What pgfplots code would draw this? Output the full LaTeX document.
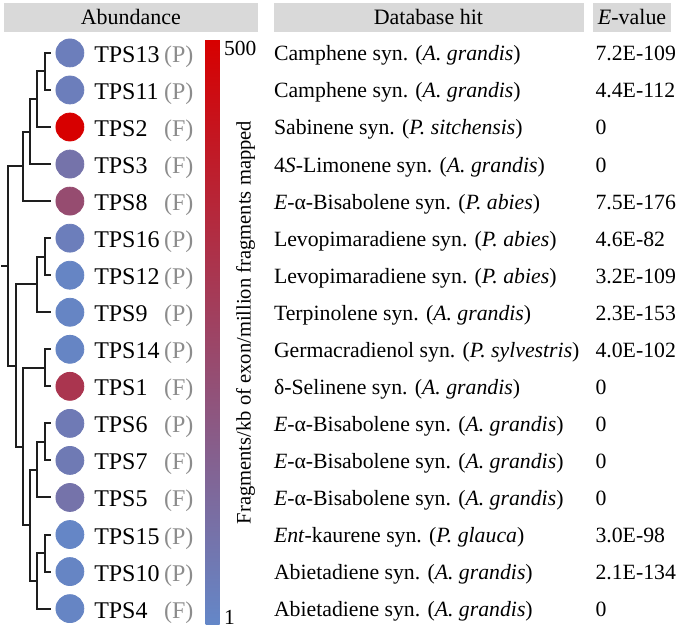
\documentclass[border=0pt]{standalone}
\usepackage{pgfplots}
\pgfplotsset{compat=1.18}
\usepackage{pgfplotstable}
\usepackage{fontspec}
\setmainfont{Liberation Serif}

\definecolor{hdr}{RGB}{217,217,217}
\definecolor{pfgray}{RGB}{140,140,140}
\definecolor{treec}{RGB}{30,30,30}

\newcommand\tpsf{\rmfamily\fontsize{12}{14}\selectfont}
\newcommand\tabf{\rmfamily\fontsize{10.9}{13}\selectfont}
\newcommand\hdrf{\rmfamily\fontsize{11}{13}\selectfont}
\newcommand\cbf{\rmfamily\fontsize{10.75}{12}\selectfont}
\newcommand\cblf{\rmfamily\fontsize{10.3}{12}\selectfont}

% abundance (fragments/kb of exon/million fragments mapped), rows top to bottom
\pgfplotstableread{
y abund
53.0 1.5
90.1 1.5
127.2 500
164.3 2.5
201.4 15
238.5 1.5
275.6 1.12
312.7 1.12
349.8 1.12
386.9 42
424.0 1.8
461.1 1.85
498.2 2.5
535.3 1.07
572.4 1.12
609.5 1.12
}\abund

\newcommand\row[5]{%
  \pgfmathsetmacro\yy{53+37.1*#1}%
  \node[anchor=base west, inner sep=0, font=\tpsf] at (93,{\yy+9.5}) {TPS#2};
  \node[anchor=base west, inner sep=0, font=\tpsf, text=pfgray] at (163,{\yy+9.5}) {(#3)};
  \node[anchor=base west, inner sep=0, font=\tabf] at (273,{\yy+8}) {#4};
  \node[anchor=base west, inner sep=0, font=\tabf] at (595,{\yy+8}) {#5};
}

\begin{document}
\begin{tikzpicture}
\begin{axis}[
  scale only axis, width=338.5pt, height=313.5pt,
  xmin=0, xmax=677, ymin=0, ymax=627, y dir=reverse,
  hide axis, clip=false,
  colormap={rb}{rgb255=(100,135,200) rgb255=(215,0,0)},
  point meta min=0, point meta max=6.2146,
  colorbar,
  colorbar shift/.style={},
  colorbar style={
    at={(parent axis.north west)}, anchor=north west,
    xshift=102.5pt, yshift=-20pt,
    scale only axis, width=7pt, height=292.5pt,
    ytick=\empty, xtick=\empty,
    axis line style={draw=none},
  },
  treeline/.style={draw=treec, line width=1pt, no markers, line join=miter, forget plot},
]
\path (0,0) rectangle (677,627);
% dendrogram
\addplot[treeline] coordinates {(50,53.0) (44,53.0) (44,90.1) (50,90.1)};
\addplot[treeline] coordinates {(44,71.55) (36,71.55) (36,127.2) (50,127.2)};
\addplot[treeline] coordinates {(36,99.4) (29,99.4) (29,164.3) (50,164.3)};
\addplot[treeline] coordinates {(29,131.85) (22,131.85) (22,201.4) (50,201.4)};
\addplot[treeline] coordinates {(50,238.5) (44,238.5) (44,275.6) (50,275.6)};
\addplot[treeline] coordinates {(44,257.05) (36,257.05) (36,312.7) (50,312.7)};
\addplot[treeline] coordinates {(50,349.8) (44,349.8) (44,386.9) (50,386.9)};
\addplot[treeline] coordinates {(50,424.0) (44,424.0) (44,461.1) (50,461.1)};
\addplot[treeline] coordinates {(44,442.55) (36,442.55) (36,498.2) (50,498.2)};
\addplot[treeline] coordinates {(50,535.3) (44,535.3) (44,572.4) (50,572.4)};
\addplot[treeline] coordinates {(44,553.85) (36,553.85) (36,609.5) (50,609.5)};
\addplot[treeline] coordinates {(36,470.4) (29,470.4) (29,581.7) (36,581.7)};
\addplot[treeline] coordinates {(44,368.35) (22,368.35) (22,526.05) (29,526.05)};
\addplot[treeline] coordinates {(36,284.9) (15,284.9) (15,447.2) (22,447.2)};
\addplot[treeline] coordinates {(22,166.6) (7,166.6) (7,366.05) (15,366.05)};
\addplot[treeline] coordinates {(7,266.3) (0,266.3)};
% abundance circles
\addplot[only marks, scatter, mark=*, mark size=7pt,
  scatter/use mapped color={draw=mapped color, fill=mapped color},
  point meta={ln(\thisrow{abund})}]
  table[x expr=69, y=y] {\abund};
\end{axis}

\begin{scope}[shift={(0pt,313.5pt)}, x=0.5pt, y=-0.5pt]
  \fill[hdr] (3,3) rectangle (257,32);
  \fill[hdr] (273,3) rectangle (584,32);
  \fill[hdr] (593,3) rectangle (671,32);
  \node[font=\hdrf, inner sep=0] at (130,17.5) {Abundance};
  \node[font=\hdrf, inner sep=0] at (428,17.5) {Database hit};
  \node[font=\hdrf, inner sep=0] at (632,17.5) {\textit{E}-value};

  \node[anchor=north west, inner sep=0, font=\cbf] at (223,41) {500};
  \node[anchor=base west, inner sep=0, font=\cbf] at (223,625) {1};
  \node[anchor=base, rotate=90, inner sep=0, font=\cblf] at (250,323) {Fragments/kb of exon/million fragments mapped};

  \row{0}{13}{P}{Camphene syn. (\textit{A. grandis})}{7.2E-109}
  \row{1}{11}{P}{Camphene syn. (\textit{A. grandis})}{4.4E-112}
  \row{2}{2}{F}{Sabinene syn. (\textit{P. sitchensis})}{0}
  \row{3}{3}{F}{4\textit{S}-Limonene syn. (\textit{A. grandis})}{0}
  \row{4}{8}{F}{\textit{E}-α-Bisabolene syn. (\textit{P. abies})}{7.5E-176}
  \row{5}{16}{P}{Levopimaradiene syn. (\textit{P. abies})}{4.6E-82}
  \row{6}{12}{P}{Levopimaradiene syn. (\textit{P. abies})}{3.2E-109}
  \row{7}{9}{P}{Terpinolene syn. (\textit{A. grandis})}{2.3E-153}
  \row{8}{14}{P}{Germacradienol syn. (\textit{P. sylvestris})}{4.0E-102}
  \row{9}{1}{F}{δ-Selinene syn. (\textit{A. grandis})}{0}
  \row{10}{6}{P}{\textit{E}-α-Bisabolene syn. (\textit{A. grandis})}{0}
  \row{11}{7}{F}{\textit{E}-α-Bisabolene syn. (\textit{A. grandis})}{0}
  \row{12}{5}{F}{\textit{E}-α-Bisabolene syn. (\textit{A. grandis})}{0}
  \row{13}{15}{P}{\textit{Ent}-kaurene syn. (\textit{P. glauca})}{3.0E-98}
  \row{14}{10}{P}{Abietadiene syn. (\textit{A. grandis})}{2.1E-134}
  \row{15}{4}{F}{Abietadiene syn. (\textit{A. grandis})}{0}
\end{scope}
\end{tikzpicture}
\end{document}
